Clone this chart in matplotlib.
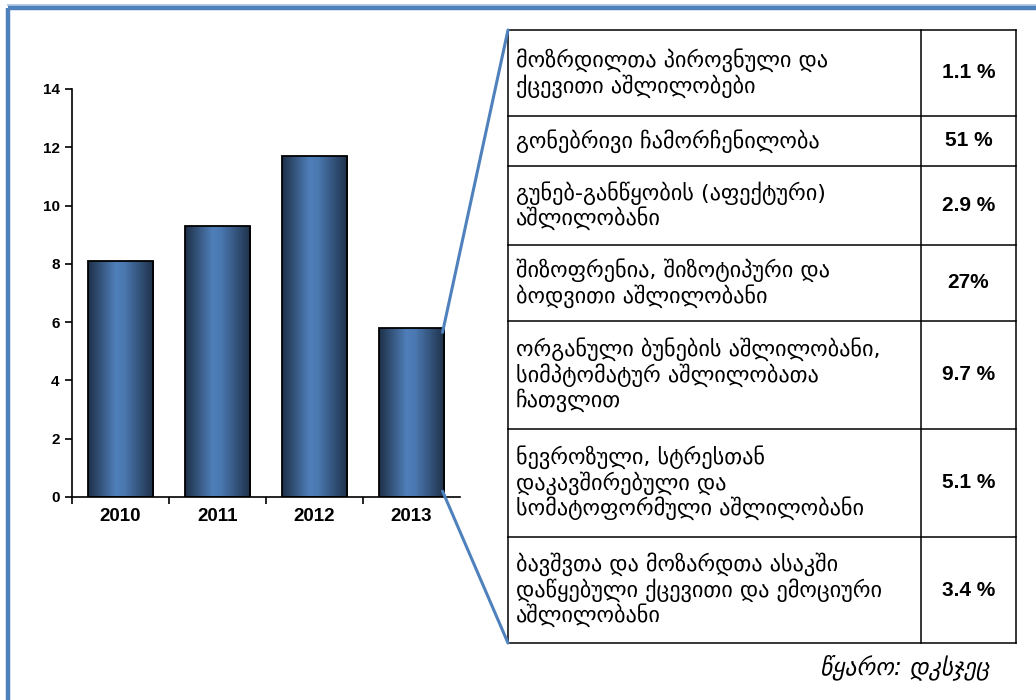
import numpy as np
import matplotlib
matplotlib.use("Agg")
import matplotlib.pyplot as plt
from matplotlib.colors import LinearSegmentedColormap
from matplotlib.patches import ConnectionPatch

# data
years = ['2010', '2011', '2012', '2013']
values = [8.1, 9.3, 11.7, 5.8]
yticks = [0, 2, 4, 6, 8, 10, 12, 14]

categories = [
    'მოზრდილთა პიროვნული და\nქცევითი აშლილობები',
    'გონებრივი ჩამორჩენილობა',
    'გუნებ-განწყობის (აფექტური)\nაშლილობანი',
    'შიზოფრენია, შიზოტიპური და\nბოდვითი აშლილობანი',
    'ორგანული ბუნების აშლილობანი,\nსიმპტომატურ აშლილობათა\nჩათვლით',
    'ნევროზული, სტრესთან\nდაკავშირებული და\nსომატოფორმული აშლილობანი',
    'ბავშვთა და მოზარდთა ასაკში\nდაწყებული ქცევითი და ემოციური\nაშლილობანი',
]
shares = ['1.1 %', '51 %', '2.9 %', '27%', '9.7 %', '5.1 %', '3.4 %']
source = 'წყარო: დკსჯეც'

########################################################################################################################

W, H = 1036, 700
BLUE = '#4f81bd'
fig = plt.figure(figsize=(W / 100, H / 100), dpi=100)

# overlay in pixel coordinates for frame / table
bg = fig.add_axes([0, 0, 1, 1])
bg.set_xlim(0, W)
bg.set_ylim(H, 0)
bg.axis('off')

bg.plot([8, W], [5, 5], color='#b9cde5', lw=1.5)
bg.plot([8, 8], [H, 8], color=BLUE, lw=3.2, solid_capstyle='butt')
bg.plot([8, W], [8, 8], color=BLUE, lw=3.2, solid_capstyle='butt')

# bar chart
ax = fig.add_axes([72 / W, (H - 497) / H, (460 - 72) / W, (497 - 89) / H])
x = np.arange(len(years))
bw = 0.68
bars = ax.bar(x, values, width=bw, color='none', edgecolor='black', linewidth=1.3, zorder=3)

cmap = LinearSegmentedColormap.from_list('bar', [(0, '#1e3048'), (0.42, '#4f7fba'), (0.55, '#4a78b0'), (1, '#1e3048')])
grad = np.linspace(0, 1, 256).reshape(1, -1)
for b in bars:
    im = ax.imshow(grad, cmap=cmap, aspect='auto', zorder=2,
                   extent=[b.get_x(), b.get_x() + b.get_width(), 0, b.get_height()])
    im.set_clip_path(b)

ax.set_xlim(-0.5, len(years) - 0.5)
ax.set_ylim(0, 14)
ax.set_yticks(yticks)
ax.set_xticks(x)
ax.set_xticklabels(years, fontsize=13.5, fontweight='bold', family='Liberation Sans')
ax.set_yticklabels([str(t) for t in yticks], fontsize=11, fontweight='bold', family='Liberation Sans')
ax.set_xticks(np.arange(len(years)) - 0.5, minor=True)
ax.tick_params(axis='x', which='major', length=0, pad=8)
ax.tick_params(axis='x', which='minor', length=5, width=1.2, direction='out')
ax.tick_params(axis='y', length=5, width=1.2, direction='out', pad=4)
for s in ['top', 'right']:
    ax.spines[s].set_visible(False)
for s in ['left', 'bottom']:
    ax.spines[s].set_linewidth(1.2)

# table
tl, tc, tr = 508, 921, 1016
rows = [30, 116, 166, 245, 321, 429, 537, 643]
for yy in rows:
    bg.plot([tl, tr], [yy, yy], color='black', lw=1.1)
for xx in [tl, tc, tr]:
    bg.plot([xx, xx], [rows[0], rows[-1]], color='black', lw=1.1)
for i, (cat, sh) in enumerate(zip(categories, shares)):
    yc = (rows[i] + rows[i + 1]) / 2
    bg.text(tl + 8, yc, cat, fontsize=16, family='DejaVu Sans', va='center', ha='left', linespacing=1.1)
    bg.text((tc + tr) / 2, yc, sh, fontsize=15, fontweight='bold', family='Liberation Sans', va='center', ha='center')

# connectors from the 2013 bar to the table
last = bars[-1]
for yv, yt in [(values[-1] - 0.15, rows[0]), (0.2, rows[-1])]:
    cp = ConnectionPatch(xyA=(last.get_x() + last.get_width() - 0.02, yv), coordsA=ax.transData,
                         xyB=(tl, yt), coordsB=bg.transData, color=BLUE, lw=2.2, zorder=5)
    fig.add_artist(cp)

bg.text(905, 667, source, fontsize=17, style='italic', family='DejaVu Sans', ha='center', va='center')

plt.savefig('out.png', dpi=100)
